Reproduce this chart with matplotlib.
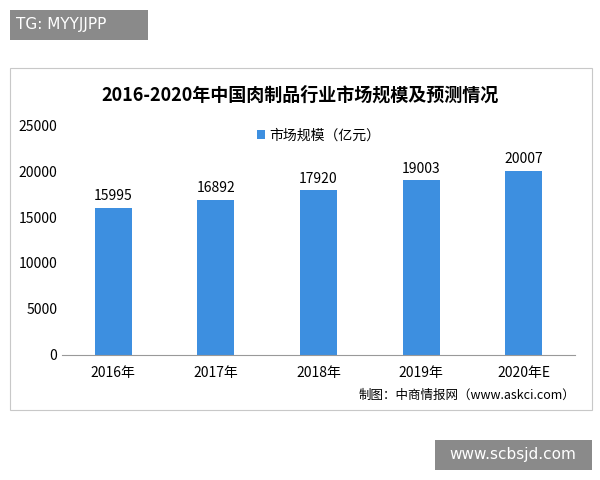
import matplotlib
matplotlib.use("Agg")
import matplotlib.pyplot as plt
from matplotlib.patches import Rectangle

plt.rcParams['font.family'] = ['Noto Sans CJK SC', 'DejaVu Sans']

categories = ["2016年", "2017年", "2018年", "2019年", "2020年E"]
values = [15995, 16892, 17920, 19003, 20007]
yticks = [0, 5000, 10000, 15000, 20000, 25000]

fig = plt.figure(figsize=(6, 4.8), dpi=100)
fig.patch.set_facecolor("white")

# outer chart frame
fig.patches.append(Rectangle((10/600, 1-410/480), 582/600, 342/480, transform=fig.transFigure,
                             fill=False, edgecolor="#c8c8c8", lw=0.8))
# top-left tag
fig.patches.append(Rectangle((10/600, 1-40/480), 138/600, 30/480, transform=fig.transFigure,
                             facecolor="#8a8a8a", edgecolor="none"))
fig.text(16/600, 1-25/480, "TG: MYYJJPP", color="white", fontsize=11, va="center", family="DejaVu Sans")
# bottom-right tag
fig.patches.append(Rectangle((435/600, 1-470/480), 157/600, 30/480, transform=fig.transFigure,
                             facecolor="#8a8a8a", edgecolor="none"))
fig.text(513/600, 1-455/480, "www.scbsjd.com", color="white", fontsize=11, va="center", ha="center", family="DejaVu Sans")

fig.text(0.5, 1-95/480, "2016-2020年中国肉制品行业市场规模及预测情况", ha="center", va="center",
         fontsize=13, fontweight="bold", family=["Noto Sans CJK SC"])

ax = fig.add_axes([62/600, 1-355/480, 513/600, 230/480])
x = range(len(categories))
bars = ax.bar(x, values, width=0.36, color="#3d8fe0", label="市场规模（亿元）")
for xi, v in zip(x, values):
    ax.text(xi, v + 500, str(v), ha="center", va="bottom", fontsize=10)
ax.set_xticks(list(x))
ax.set_xticklabels(categories, fontsize=10)
ax.set_yticks(yticks)
ax.set_yticklabels([str(t) for t in yticks], fontsize=10)
ax.set_ylim(0, 25000)
ax.set_xlim(-0.5, len(categories) - 0.5)
for s in ["top", "right", "left"]:
    ax.spines[s].set_visible(False)
ax.spines["bottom"].set_color("#999999")
ax.tick_params(axis="y", length=0)
ax.tick_params(axis="x", length=0, pad=8)
ax.legend(loc="upper center", bbox_to_anchor=(0.5, 1.04), frameon=False, fontsize=10,
          handlelength=0.6, handleheight=0.6, handletextpad=0.3)

fig.text(575/600, 1-395/480, "制图：中商情报网（www.askci.com）", ha="right", va="center", fontsize=9)

fig.savefig("out.png", dpi=100)
